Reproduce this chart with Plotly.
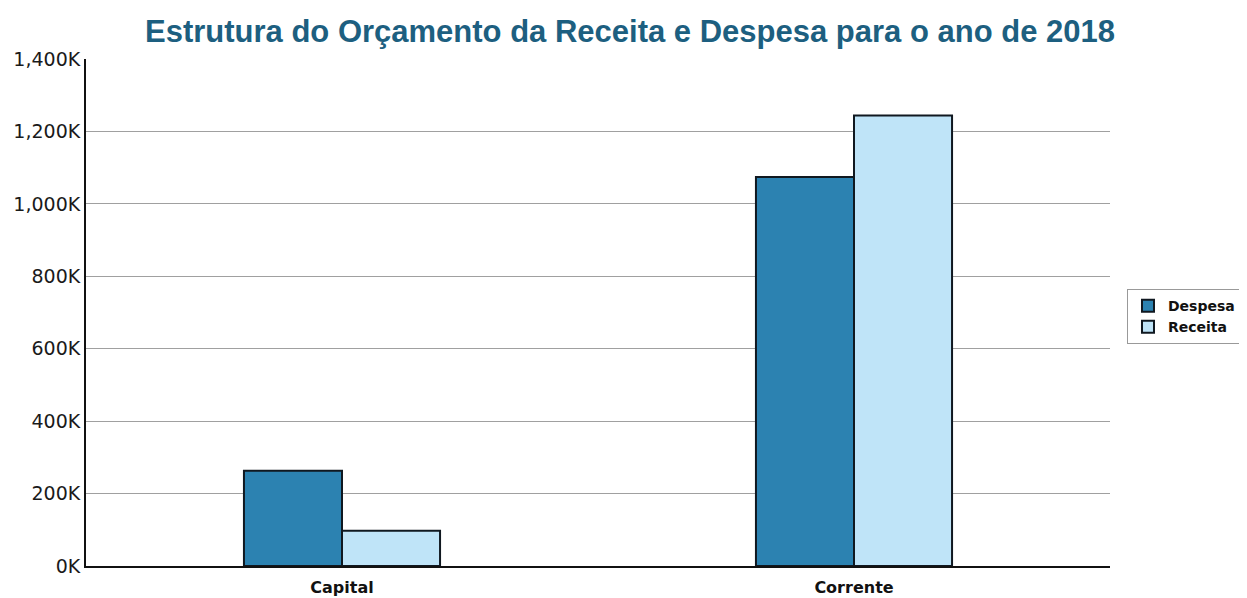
import plotly.graph_objects as go

categories = ["Capital", "Corrente"]
despesa = [263, 1074]   # thousands
receita = [97, 1244]    # thousands
tick_vals = [0, 200, 400, 600, 800, 1000, 1200, 1400]
tick_text = ["0K", "200K", "400K", "600K", "800K", "1,000K", "1,200K", "1,400K"]

fig = go.Figure()
fig.add_trace(go.Bar(name="Despesa", x=categories, y=despesa,
                     marker=dict(color="#2c82b1", line=dict(color="#101820", width=2))))
fig.add_trace(go.Bar(name="Receita", x=categories, y=receita,
                     marker=dict(color="#bfe4f8", line=dict(color="#101820", width=2))))

# page body has an 8px default margin, so the figure is sized 8px smaller
fig.update_layout(
    width=1239, height=590,
    barmode="group", bargap=0.617, bargroupgap=0,
    plot_bgcolor="white", paper_bgcolor="white",
    margin=dict(l=78, r=137, t=51, b=32, autoexpand=False),
    title=dict(text="<b>Estrutura do Orçamento da Receita e Despesa para o ano de 2018</b>",
               x=0.502, xanchor="center", y=0.96, yanchor="middle",
               font=dict(family="Liberation Sans, Arial", size=31, color="#1d5f80")),
    font=dict(family="DejaVu Sans", size=15, color="#1a1a1a"),
    legend=dict(x=1.0166, xanchor="left", y=0.492, yanchor="middle",
                bordercolor="#999999", borderwidth=1, bgcolor="white",
                font=dict(family="DejaVu Sans", size=14, color="#111111", weight="bold"),
                traceorder="normal", tracegroupgap=2, itemwidth=30),
    xaxis=dict(showline=True, linecolor="#111111", linewidth=2, showgrid=False,
               ticks="", automargin=False, ticklabelstandoff=6,
               tickfont=dict(family="DejaVu Sans", size=16, color="#111111", weight="bold")),
    yaxis=dict(range=[0, 1400], tickvals=tick_vals, ticktext=tick_text,
               showline=True, linecolor="#111111", linewidth=2,
               showgrid=True, gridcolor="#a0a0a0", gridwidth=1,
               zeroline=False, ticks="", automargin=False,
               tickfont=dict(family="DejaVu Sans", size=19, color="#1a1a1a")),
)

fig.write_html("out.html")
